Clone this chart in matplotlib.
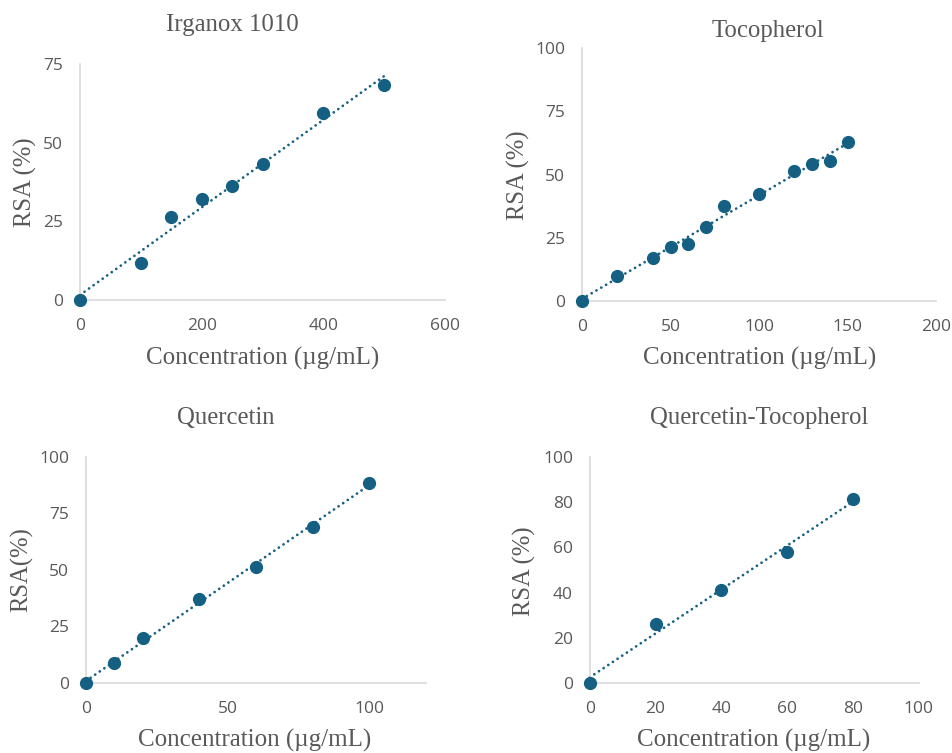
import numpy as np
import matplotlib
matplotlib.use("Agg")
import matplotlib.pyplot as plt

# ---- data ----
irg_x = [0, 100, 150, 200, 250, 300, 400, 500]
irg_y = [0, 11.7, 26.4, 32.1, 36.2, 43.2, 59.3, 68.2]

toc_x = [0, 20, 40, 50, 60, 70, 80, 100, 120, 130, 140, 150]
toc_y = [0, 9.9, 16.9, 21.5, 22.7, 29.3, 37.5, 42.3, 51.4, 54.1, 55.4, 62.8]

que_x = [0, 10, 20, 40, 60, 80, 100]
que_y = [0, 8.9, 19.6, 37.2, 51.1, 69.1, 88.6]

qt_x = [0, 20, 40, 60, 80]
qt_y = [0, 25.9, 41.3, 58.1, 81.3]

titles = ["Irganox 1010", "Tocopherol", "Quercetin", "Quercetin-Tocopherol"]
ylabels = ["RSA (%)", "RSA (%)", "RSA(%)", "RSA (%)"]
xlabel = "Concentration (\u00b5g/mL)"

xticks = [[0, 200, 400, 600], [0, 50, 100, 150, 200], [0, 50, 100], [0, 20, 40, 60, 80, 100]]
yticks = [[0, 25, 50, 75], [0, 25, 50, 75, 100], [0, 25, 50, 75, 100], [0, 20, 40, 60, 80, 100]]
xlims = [(0, 600), (0, 200), (0, 120), (0, 100)]
ylims = [(0, 75), (0, 100), (0, 100), (0, 100)]

# ---- style ----
W, H = 952, 753
COLOR = "#156082"
GRAY = "#595959"
SPINE = "#D9D9D9"
SERIF = ["Liberation Serif", "DejaVu Serif"]
SANS = ["Open Sans", "DejaVu Sans"]

fig = plt.figure(figsize=(W / 100, H / 100), dpi=100)

# axes rects in pixels: left, right, bottom, top
rects_px = [
    (80, 445, 300, 64),
    (582, 936, 301, 48.3),
    (86, 426, 682.7, 457),
    (589.7, 918.7, 682.7, 457.3),
]
title_pos = [(232, 25), (768, 31), (226, 418), (759, 418)]
xlabel_pos = [(263, 358), (760, 358), (255, 740), (754, 740)]
ylabel_pos = [(25, 182), (518, 175), (22, 570), (524, 571)]

datasets = [(irg_x, irg_y), (toc_x, toc_y), (que_x, que_y), (qt_x, qt_y)]

for i, (xs, ys) in enumerate(datasets):
    l, r, b, t = rects_px[i]
    ax = fig.add_axes([l / W, 1 - b / H, (r - l) / W, (b - t) / H])
    xs_a = np.array(xs, float)
    ys_a = np.array(ys, float)
    slope, icpt = np.polyfit(xs_a, ys_a, 1)
    xx = np.array([0, xs_a.max()])
    ax.plot(xx, slope * xx + icpt, linestyle=(0, (0.01, 2.0)), color=COLOR,
            linewidth=2.0, dash_capstyle="round", zorder=2, clip_on=False)
    ax.plot(xs_a, ys_a, "o", color=COLOR, markersize=8.5, zorder=3, clip_on=False)
    ax.set_xlim(*xlims[i])
    ax.set_ylim(*ylims[i])
    ax.set_xticks(xticks[i])
    ax.set_yticks(yticks[i])
    for s in ["top", "right"]:
        ax.spines[s].set_visible(False)
    for s in ["left", "bottom"]:
        ax.spines[s].set_color(SPINE)
        ax.spines[s].set_linewidth(1.2)
    ax.tick_params(axis="both", length=0, labelcolor=GRAY, labelsize=12.5)
    ax.tick_params(axis="y", pad=12)
    ax.tick_params(axis="x", pad=13)
    for lab in ax.get_xticklabels() + ax.get_yticklabels():
        lab.set_family(SANS)
    ax.patch.set_alpha(0)

    fig.text(title_pos[i][0] / W, 1 - title_pos[i][1] / H, titles[i],
             ha="center", va="center", fontsize=17.8, color=GRAY, family=SERIF)
    fig.text(xlabel_pos[i][0] / W, 1 - xlabel_pos[i][1] / H, xlabel,
             ha="center", va="center", fontsize=18, color=GRAY, family=SERIF)
    fig.text(ylabel_pos[i][0] / W, 1 - ylabel_pos[i][1] / H, ylabels[i],
             ha="center", va="center", rotation=90, fontsize=17.7, color=GRAY, family=SERIF)

fig.savefig("out.png", dpi=100, facecolor="white")
